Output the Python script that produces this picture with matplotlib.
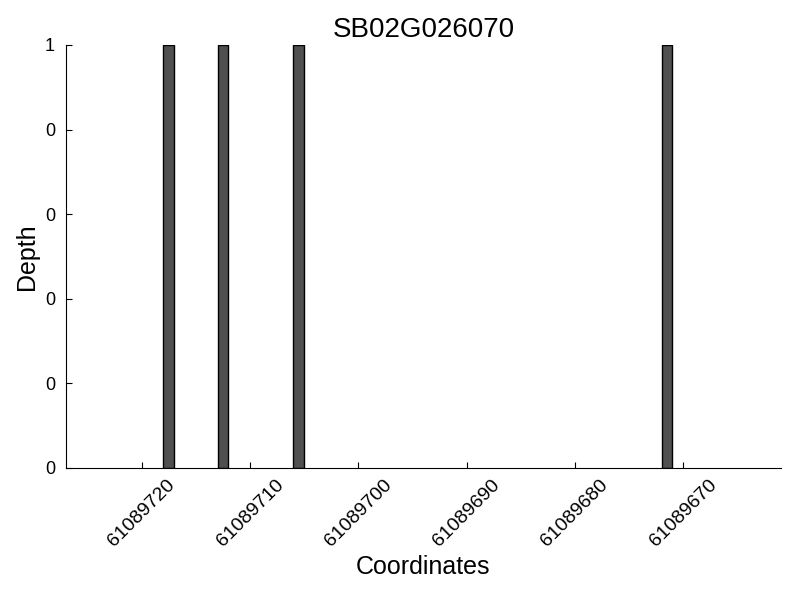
import matplotlib
matplotlib.use("Agg")
import matplotlib.pyplot as plt
from matplotlib.ticker import FormatStrFormatter, MultipleLocator

plt.rcParams['font.family'] = ['Liberation Sans', 'DejaVu Sans']

GENE = "SB02G026070"
coord_start = 61089661
coord_end = 61089727
positions = [61089717, 61089712, 61089705, 61089671]
depths = [1, 1, 1, 1]
xticks = [61089720, 61089710, 61089700, 61089690, 61089680, 61089670]


def main():
    fig = plt.figure(figsize=(8, 6), dpi=100)
    ax = fig.add_axes([0.0825, 0.22, 0.8935, 0.705])

    ax.bar(positions, depths, width=1, align='edge', color='#505050',
           edgecolor='black', linewidth=1)

    ax.set_xlim(coord_end, coord_start)
    ax.set_ylim(0, max(depths))
    ax.set_xticks(xticks)
    ax.set_xticklabels([str(x) for x in xticks], rotation=45, ha='center',
                       fontsize=14)
    ax.yaxis.set_major_locator(MultipleLocator(0.2))
    ax.yaxis.set_major_formatter(FormatStrFormatter('%d'))
    ax.tick_params(axis='y', labelsize=13, pad=8)
    ax.tick_params(axis='x', pad=6)
    ax.tick_params(direction='in', length=4, top=False, right=False)

    for side in ('top', 'right'):
        ax.spines[side].set_visible(False)

    ax.set_title(GENE, fontsize=20)
    ax.set_xlabel("Coordinates", fontsize=18)
    ax.set_ylabel("Depth", fontsize=18)

    fig.savefig("out.png", dpi=100)


if __name__ == "__main__":
    main()
